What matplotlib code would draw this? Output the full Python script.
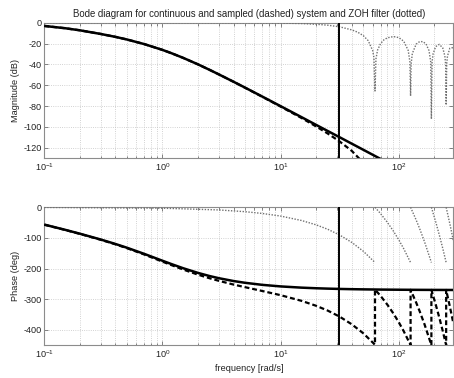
import matplotlib
matplotlib.use("Agg")
import matplotlib.pyplot as plt
import numpy as np
from matplotlib.ticker import LogLocator, FixedLocator

plt.rcParams['font.family'] = ['Liberation Sans', 'DejaVu Sans']
plt.rcParams['mathtext.fontset'] = 'custom'
plt.rcParams['mathtext.rm'] = 'Liberation Sans'
plt.rcParams['mathtext.it'] = 'Liberation Sans'
plt.rcParams['axes.unicode_minus'] = False

# ---------------- data ----------------
title_text = "Bode diagram for continuous and sampled (dashed) system and ZOH filter (dotted)"
nyquist_freq = 31.42

# continuous system (solid)
freq_cont = [0.1, 0.15, 0.2, 0.3, 0.4, 0.5, 0.7, 1, 1.2, 1.5, 2, 2.5, 3, 4, 5, 7,
             10, 15, 20, 25, 31.42, 40, 50, 70, 100, 150, 200, 290]
mag_cont = [-3.1, -5.3, -7.3, -10.8, -13.6, -16.1, -20.5, -26.1, -29.4, -33.8, -40.0,
            -45.2, -49.6, -56.7, -62.3, -70.9, -80.1, -90.6, -98.1, -103.9, -109.8,
            -116.1, -121.9, -130.7, -140.0, -150.6, -158.1, -170.8]
phase_cont = [-56.4, -73.4, -86.1, -105.0, -119.6, -131.8, -151.8, -174.3, -185.6,
              -198.8, -214.0, -224.1, -231.2, -240.5, -246.2, -252.9, -258.0, -262.0,
              -264.0, -265.2, -266.2, -267.0, -267.6, -268.3, -268.8, -269.2, -269.4,
              -269.6]

# sampled system (dashed)
freq_samp_mag = [0.1, 0.15, 0.2, 0.3, 0.4, 0.5, 0.7, 1, 1.2, 1.5, 2, 2.5, 3, 4, 5, 7,
                 10, 15, 20, 25, 31.42, 40, 50]
mag_samp = [-3.1, -5.3, -7.3, -10.8, -13.6, -16.1, -20.5, -26.1, -29.4, -33.8, -40.0,
            -45.2, -49.6, -56.7, -62.4, -71.1, -80.5, -91.4, -99.6, -106.3, -113.8,
            -123.0, -134.4]
freq_samp_ph = [0.1, 0.15, 0.2, 0.3, 0.4, 0.5, 0.7, 1, 1.2, 1.5, 2, 2.5, 3, 4, 5, 7,
                10, 15, 20, 25, 31.42, 40, 50, 62.83,
                62.83, 70, 80, 90, 100, 110, 125.66,
                125.66, 140, 150, 165, 188.5,
                188.5, 205, 220, 235, 251.33,
                251.33, 270, 290]
phase_samp = [-56.7, -73.8, -86.7, -105.9, -120.7, -133.2, -153.8, -177.2, -189.0,
              -203.1, -219.7, -231.3, -239.8, -252.0, -260.5, -273.0, -286.6, -305.0,
              -321.3, -336.8, -356.2, -381.6, -410.8, -448.1,
              -268.1, -288.8, -317.7, -346.5, -375.3, -404.2, -449.1,
              -269.1, -310.3, -339.0, -381.9, -449.4,
              -269.4, -316.8, -359.8, -402.8, -449.5,
              -269.5, -323.2, -380.5]

# ZOH filter (dotted)
freq_zoh_mag = [0.1, 1, 5, 10, 15, 20, 25, 31.42, 40, 45, 50, 55, 60, 61.5, 62.83, 64,
                66, 70, 75, 80, 90, 100, 110, 120, 124, 125.66, 127, 130, 140, 150, 160,
                170, 180, 186, 188.5, 191, 195, 205, 220, 235, 245, 249, 251.33, 254,
                258, 270, 290]
mag_zoh = [0.0, 0.0, -0.1, -0.4, -0.8, -1.5, -2.4, -3.9, -6.9, -9.2, -12.4, -17.2,
           -26.6, -33.3, -65.5, -34.8, -26.4, -20.0, -16.3, -14.5, -13.3, -14.3, -17.8,
           -26.6, -37.5, -70.3, -39.6, -29.6, -20.6, -18.1, -18.2, -20.5, -26.8, -37.5,
           -92.4, -37.7, -29.7, -22.9, -20.8, -24.1, -31.9, -40.6, -79.0, -39.6, -31.9,
           -24.5, -23.8]
freq_zoh_ph = [0.1, 1, 3, 5, 7, 10, 15, 20, 25, 31.42, 40, 50, 62.83, np.nan,
               62.83, 70, 80, 90, 100, 110, 125.66, np.nan,
               125.66, 140, 150, 165, 188.5, np.nan,
               188.5, 205, 220, 235, 251.33, np.nan,
               251.33, 270, 290]
phase_zoh = [-0.3, -2.9, -8.6, -14.3, -20.1, -28.6, -43.0, -57.3, -71.6, -90.0, -114.6,
             -143.2, -180.0, np.nan,
             0.0, -20.5, -49.2, -77.8, -106.5, -135.2, -180.0, np.nan,
             0.0, -41.1, -69.7, -112.7, -180.0, np.nan,
             0.0, -47.3, -90.3, -133.3, -180.0, np.nan,
             0.0, -53.6, -110.9]

mag_ticks = [0, -20, -40, -60, -80, -100, -120]
phase_ticks = [0, -100, -200, -300, -400]
x_limits = (0.1, 290)
mag_limits = (-130, 0)
phase_limits = (-450, 0)

# ---------------- figure ----------------
W, H = 454, 378
fig = plt.figure(figsize=(W / 100, H / 100), dpi=100)

def fbox(l, t, r, b):
    return [l / W, 1 - b / H, (r - l) / W, (b - t) / H]

ax1 = fig.add_axes(fbox(44.3, 22.7, 453.5, 158.2))
ax2 = fig.add_axes(fbox(44.3, 207.3, 453.5, 345.3))

txt_col = '#222222'
fs = 6.6
solid_kw = dict(color='black', lw=1.8, solid_capstyle='butt', zorder=5)
dash_kw = dict(color='black', lw=1.6, linestyle=(0, (2.2, 1.3)), zorder=4)
dot_kw = dict(color='#707070', lw=1.0, linestyle=(0, (1, 1.1)), zorder=3)

for ax in (ax1, ax2):
    ax.set_xscale('log')
    ax.set_xlim(*x_limits)
    ax.grid(True, which='major', axis='both', color='#c4c4c4', linestyle=':', lw=0.6)
    ax.grid(True, which='minor', axis='x', color='#c4c4c4', linestyle=':', lw=0.6)
    ax.xaxis.set_major_locator(LogLocator(base=10, numticks=10))
    ax.xaxis.set_minor_locator(LogLocator(base=10, subs=np.arange(2, 10), numticks=10))
    ax.tick_params(which='both', direction='in', top=True, right=True,
                   labelsize=fs, colors='#555555', labelcolor=txt_col, pad=2)
    ax.tick_params(which='major', length=3, width=0.5)
    ax.tick_params(which='minor', length=1.8, width=0.5)
    for s in ax.spines.values():
        s.set_color('#8c8c8c')
        s.set_linewidth(0.8)
    ax.set_axisbelow(True)
    ax.axvline(nyquist_freq, color='black', lw=1.4, zorder=6)

# magnitude
ax1.plot(freq_zoh_mag, mag_zoh, **dot_kw)
ax1.plot(freq_samp_mag, mag_samp, **dash_kw)
ax1.plot(freq_cont, mag_cont, **solid_kw)
ax1.set_ylim(*mag_limits)
ax1.yaxis.set_major_locator(FixedLocator(mag_ticks))
ax1.set_title(title_text, fontsize=6.9, color=txt_col, pad=4)

# phase
ax2.plot(freq_zoh_ph, phase_zoh, **dot_kw)
ax2.plot(freq_samp_ph, phase_samp, **dash_kw)
ax2.plot(freq_cont, phase_cont, **solid_kw)
ax2.set_ylim(*phase_limits)
ax2.yaxis.set_major_locator(FixedLocator(phase_ticks))
ax2.set_xlabel('frequency [rad/s]', fontsize=fs, color=txt_col, labelpad=3)

# y labels at fixed horizontal position (as in the reference)
ax1.set_ylabel('Magnitude (dB)', fontsize=fs, color=txt_col)
ax2.set_ylabel('Phase (deg)', fontsize=fs, color=txt_col)
ax1.yaxis.set_label_coords(15 / 409.2 * -2.0 + 0.0, 0.5)
for ax in (ax1, ax2):
    ax.yaxis.set_label_coords((15 - 44.3) / (453.5 - 44.3), 0.5)
    ax.yaxis.label.set_verticalalignment('center')

fig.savefig('out.png', dpi=100)
